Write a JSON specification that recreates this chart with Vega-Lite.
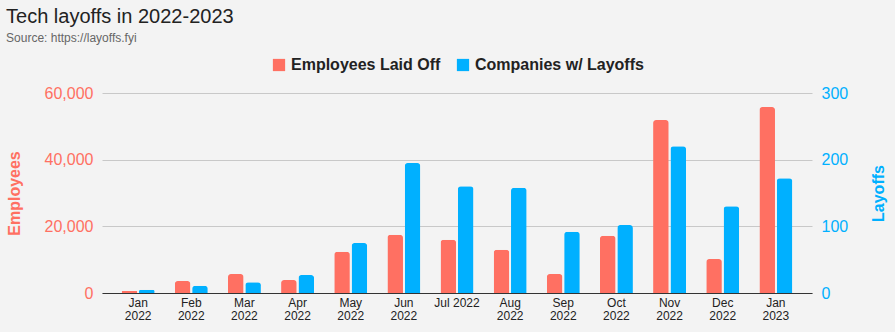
{
  "$schema": "https://vega.github.io/schema/vega-lite/v6.json",
  "width": 895,
  "height": 332,
  "autosize": {"type": "fit", "contains": "padding"},
  "padding": {"left": 6, "top": 7, "right": 8, "bottom": 11},
  "background": "#f3f3f3",
  "title": {
    "text": "Tech layoffs in 2022-2023",
    "subtitle": "Source: https://layoffs.fyi",
    "anchor": "start",
    "frame": "bounds",
    "font": "Liberation Sans",
    "fontSize": 20,
    "fontWeight": "normal",
    "color": "#222222",
    "subtitleFont": "Liberation Sans",
    "subtitleFontSize": 12,
    "subtitleColor": "#666666",
    "subtitlePadding": 6,
    "offset": 13
  },
  "config": {
    "view": {"stroke": null},
    "font": "Liberation Sans",
    "legend": {"layout": {"top": {"anchor": "middle"}}}
  },
  "data": {
    "values": [
      {"month": "Jan 2022", "series": "Employees Laid Off", "value": 600},
      {"month": "Feb 2022", "series": "Employees Laid Off", "value": 3600},
      {"month": "Mar 2022", "series": "Employees Laid Off", "value": 5700},
      {"month": "Apr 2022", "series": "Employees Laid Off", "value": 3900},
      {"month": "May 2022", "series": "Employees Laid Off", "value": 12400},
      {"month": "Jun 2022", "series": "Employees Laid Off", "value": 17500},
      {"month": "Jul 2022", "series": "Employees Laid Off", "value": 16000},
      {"month": "Aug 2022", "series": "Employees Laid Off", "value": 13000},
      {"month": "Sep 2022", "series": "Employees Laid Off", "value": 5700},
      {"month": "Oct 2022", "series": "Employees Laid Off", "value": 17200},
      {"month": "Nov 2022", "series": "Employees Laid Off", "value": 51900},
      {"month": "Dec 2022", "series": "Employees Laid Off", "value": 10200},
      {"month": "Jan 2023", "series": "Employees Laid Off", "value": 55800},
      {"month": "Jan 2022", "series": "Companies w/ Layoffs", "value": 5},
      {"month": "Feb 2022", "series": "Companies w/ Layoffs", "value": 11},
      {"month": "Mar 2022", "series": "Companies w/ Layoffs", "value": 16},
      {"month": "Apr 2022", "series": "Companies w/ Layoffs", "value": 27},
      {"month": "May 2022", "series": "Companies w/ Layoffs", "value": 75},
      {"month": "Jun 2022", "series": "Companies w/ Layoffs", "value": 195},
      {"month": "Jul 2022", "series": "Companies w/ Layoffs", "value": 160},
      {"month": "Aug 2022", "series": "Companies w/ Layoffs", "value": 158},
      {"month": "Sep 2022", "series": "Companies w/ Layoffs", "value": 92},
      {"month": "Oct 2022", "series": "Companies w/ Layoffs", "value": 102},
      {"month": "Nov 2022", "series": "Companies w/ Layoffs", "value": 220},
      {"month": "Dec 2022", "series": "Companies w/ Layoffs", "value": 130},
      {"month": "Jan 2023", "series": "Companies w/ Layoffs", "value": 172}
    ]
  },
  "encoding": {
    "x": {
      "field": "month",
      "type": "nominal",
      "sort": null,
      "scale": {"paddingInner": 0.38, "paddingOuter": 0.37},
      "axis": {
        "title": null,
        "labelAngle": 0,
        "labelFontSize": 12,
        "labelColor": "#222222",
        "labelExpr": "datum.value == 'Jul 2022' ? datum.value : split(datum.value, ' ')",
        "labelLineHeight": 13,
        "ticks": false,
        "labelPadding": 4,
        "domainColor": "#333333",
        "domainWidth": 1,
        "grid": false
      }
    },
    "xOffset": {
      "field": "series",
      "type": "nominal",
      "sort": ["Employees Laid Off", "Companies w/ Layoffs"],
      "scale": {"paddingInner": 0.1}
    },
    "color": {
      "field": "series",
      "type": "nominal",
      "sort": ["Employees Laid Off", "Companies w/ Layoffs"],
      "scale": {"domain": ["Employees Laid Off", "Companies w/ Layoffs"], "range": ["#FF7062", "#00B0FF"]},
      "legend": {
        "orient": "top",
        "direction": "horizontal",
        "title": null,
        "symbolType": "square",
        "symbolSize": 150,
        "symbolStrokeWidth": 0,
        "labelFontSize": 16,
        "labelFontWeight": "bold",
        "labelColor": "#222222",
        "labelLimit": 400,
        "columnPadding": 14,
        "offset": 20
      }
    }
  },
  "layer": [
    {
      "transform": [{"filter": "datum.series == 'Employees Laid Off'"}],
      "mark": {"type": "bar", "cornerRadiusTopLeft": 3, "cornerRadiusTopRight": 3},
      "encoding": {
        "y": {
          "field": "value",
          "type": "quantitative",
          "scale": {"domain": [0, 60000]},
          "axis": {
            "title": "Employees",
            "titleColor": "#FF7062",
            "titleFontSize": 16,
            "titleFontWeight": "bold",
            "titlePadding": 22,
            "values": [0, 20000, 40000, 60000],
            "format": ",.0f",
            "labelColor": "#FF7062",
            "labelFontSize": 16,
            "labelPadding": 9,
            "ticks": false,
            "domain": false,
            "gridColor": "#c8c8c8"
          }
        }
      }
    },
    {
      "transform": [{"filter": "datum.series == 'Companies w/ Layoffs'"}],
      "mark": {"type": "bar", "cornerRadiusTopLeft": 3, "cornerRadiusTopRight": 3},
      "encoding": {
        "y": {
          "field": "value",
          "type": "quantitative",
          "scale": {"domain": [0, 300]},
          "axis": {
            "orient": "right",
            "title": "Layoffs",
            "titleAngle": 270,
            "titleColor": "#00B0FF",
            "titleFontSize": 16,
            "titleFontWeight": "bold",
            "titlePadding": 39,
            "values": [0, 100, 200, 300],
            "labelColor": "#00B0FF",
            "labelFontSize": 16,
            "labelPadding": 9,
            "ticks": false,
            "domain": false,
            "grid": false
          }
        }
      }
    }
  ],
  "resolve": {"scale": {"y": "independent"}}
}
